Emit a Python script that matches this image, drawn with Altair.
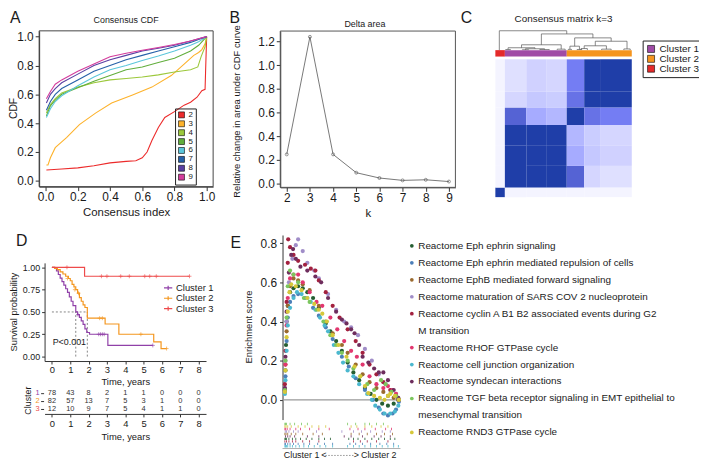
import altair as alt
import pandas as pd

FONT = "Liberation Sans"
INK = "#1a1a1a"
W, H = 699, 453


def X(px):
    return px - 8


def Y(py):
    return py - 8


# ---------------- Panel A: consensus CDF ----------------
cdf_k = ["2", "3", "4", "5", "6", "7", "8", "9"]
cdf_colors = ["#EC2B2B", "#FDB22B", "#9CC83B", "#62AE3C", "#5CC6DB", "#2660A8", "#5A3FA2", "#D43C9C"]
cdf_k2_x = [0.005, 0.1, 0.2, 0.3, 0.4, 0.5, 0.56, 0.6, 0.63, 0.66, 0.7, 0.74, 0.8, 0.86, 0.9, 0.94, 0.97, 0.99, 0.993, 0.997, 1.0]
cdf_k2_y = [0.075, 0.082, 0.09, 0.105, 0.125, 0.135, 0.14, 0.16, 0.2, 0.28, 0.37, 0.44, 0.48, 0.525, 0.545, 0.58, 0.625, 0.635, 0.75, 0.9, 1.0]
cdf_k3_x = [0.005, 0.015, 0.03, 0.06, 0.1, 0.13, 0.21, 0.31, 0.41, 0.54, 0.66, 0.78, 0.86, 0.92, 0.95, 0.97, 0.99, 1.0]
cdf_k3_y = [0.11, 0.11, 0.16, 0.23, 0.27, 0.30, 0.39, 0.47, 0.54, 0.596, 0.65, 0.73, 0.81, 0.87, 0.89, 0.91, 0.95, 1.0]
cdf_k4_x = [0.005, 0.03, 0.06, 0.1, 0.2, 0.3, 0.4, 0.5, 0.6, 0.7, 0.8, 0.9, 0.945, 0.965, 0.99, 1.0]
cdf_k4_y = [0.47, 0.53, 0.57, 0.61, 0.65, 0.68, 0.70, 0.71, 0.72, 0.735, 0.755, 0.77, 0.79, 0.86, 0.93, 1.0]
cdf_grid_x = [0.005, 0.03, 0.06, 0.1, 0.2, 0.3, 0.4, 0.5, 0.6, 0.7, 0.8, 0.9, 0.95, 1.0]
cdf_k5_y = [0.45, 0.52, 0.56, 0.60, 0.645, 0.69, 0.73, 0.77, 0.79, 0.82, 0.85, 0.90, 0.94, 1.0]
cdf_k6_y = [0.44, 0.50, 0.55, 0.59, 0.66, 0.72, 0.77, 0.80, 0.835, 0.865, 0.90, 0.94, 0.965, 1.0]
cdf_k7_y = [0.49, 0.55, 0.60, 0.64, 0.70, 0.76, 0.80, 0.84, 0.87, 0.90, 0.93, 0.96, 0.98, 1.0]
cdf_k8_y = [0.54, 0.60, 0.64, 0.68, 0.74, 0.80, 0.84, 0.87, 0.90, 0.92, 0.94, 0.97, 0.985, 1.0]
cdf_k9_y = [0.57, 0.62, 0.67, 0.70, 0.76, 0.81, 0.86, 0.885, 0.905, 0.925, 0.945, 0.97, 0.985, 1.0]

# ---------------- Panel B: delta area ----------------
delta_k = [2, 3, 4, 5, 6, 7, 8, 9]
delta_area = [0.245, 1.24, 0.245, 0.09, 0.045, 0.025, 0.03, 0.015]

# ---------------- Panel C: consensus matrix ----------------
clusters = ["Cluster 1", "Cluster 2", "Cluster 3"]
cluster_colors_c = ["#A04BA6", "#F5951E", "#E42A2A"]
bar_cluster = ["Cluster 3", "Cluster 1", "Cluster 2"]
bar_size = [12, 78, 82]
block_size = [12, 27, 25, 26, 22, 20, 40]
block_matrix = [
    [0.95, 0.0, 0.0, 0.0, 0.0, 0.0, 0.0],
    [0.0, 0.93, 0.88, 0.86, 0.62, 0.12, 0.08],
    [0.0, 0.88, 0.92, 0.90, 0.30, 0.18, 0.14],
    [0.0, 0.86, 0.90, 0.93, 0.25, 0.16, 0.12],
    [0.0, 0.62, 0.30, 0.25, 0.95, 0.55, 0.50],
    [0.0, 0.12, 0.18, 0.16, 0.55, 0.92, 0.86],
    [0.0, 0.08, 0.14, 0.12, 0.50, 0.86, 0.95],
]
# dendrogram merges: left x, right x, height, left child height, right child height
dendro_xl = [5, 58, 33, 16, 13, 38, 34, 56, 78, 100, 94, 92, 103, 126, 112, 108, 134, 162]
dendro_xr = [90, 123, 83, 50, 19, 62, 42, 68, 88, 146, 106, 96, 109, 166, 140, 116, 146, 170]
dendro_h = [0.98, 0.82, 0.27, 0.12, 0.03, 0.07, 0.02, 0.03, 0.05, 0.62, 0.2, 0.04, 0.03, 0.45, 0.22, 0.08, 0.05, 0.06]
dendro_hl = [0.0, 0.27, 0.12, 0.03, 0.0, 0.02, 0.0, 0.0, 0.0, 0.2, 0.04, 0.0, 0.0, 0.22, 0.08, 0.0, 0.0, 0.0]
dendro_hr = [0.82, 0.62, 0.05, 0.07, 0.0, 0.03, 0.0, 0.0, 0.0, 0.45, 0.03, 0.0, 0.0, 0.06, 0.05, 0.0, 0.0, 0.0]

# ---------------- Panel D: survival ----------------
km_colors = ["#9040A8", "#F4961E", "#EE4B4B"]
c1_t = [0, 0.15, 0.25, 0.35, 0.45, 0.55, 0.65, 0.75, 0.85, 0.95, 1.05, 1.15, 1.3, 1.4, 1.5, 1.6, 1.7, 1.8, 1.9, 2.05, 3.05, 5.5]
c1_s = [1.0, 0.987, 0.96, 0.92, 0.88, 0.84, 0.80, 0.76, 0.72, 0.67, 0.62, 0.57, 0.50, 0.47, 0.44, 0.40, 0.36, 0.31, 0.27, 0.25, 0.125, 0.125]
c2_t = [0, 0.15, 0.3, 0.45, 0.6, 0.75, 0.9, 1.0, 1.1, 1.2, 1.3, 1.4, 1.5, 1.6, 1.7, 1.8, 1.93, 2.9, 3.65, 5.55, 5.95, 6.25]
c2_s = [1.0, 0.988, 0.975, 0.95, 0.925, 0.9, 0.875, 0.85, 0.81, 0.78, 0.75, 0.71, 0.66, 0.62, 0.58, 0.55, 0.43, 0.365, 0.25, 0.165, 0.09, 0.09]
c3_t = [0, 1.78, 7.5]
c3_s = [1.0, 0.9, 0.9]
c1_cens_t = [1.42, 2.55, 2.65, 2.75, 2.85, 5.5]
c1_cens_s = [0.47, 0.25, 0.25, 0.25, 0.25, 0.125]
c2_cens_t = [0.85, 1.25, 1.45, 2.6, 2.75, 4.85, 6.25]
c2_cens_s = [0.875, 0.75, 0.71, 0.43, 0.43, 0.25, 0.09]
c3_cens_t = [0.82, 2.7, 3.0, 3.75, 4.22, 5.06, 5.33, 5.69, 7.5]
c3_cens_s = [1.0, 0.9, 0.9, 0.9, 0.9, 0.9, 0.9, 0.9, 0.9]
median_t = [1.3, 1.93]
risk_times = [0, 1, 2, 3, 4, 5, 6, 7, 8]
risk_c1 = [78, 43, 8, 2, 1, 1, 0, 0, 0]
risk_c2 = [82, 57, 13, 7, 5, 3, 1, 0, 0]
risk_c3 = [12, 10, 9, 7, 5, 4, 1, 1, 0]

# ---------------- Panel E: enrichment ----------------
pathway_lines = [
    ["Reactome Eph ephrin signaling"],
    ["Reactome Eph ephrin mediated repulsion of cells"],
    ["Reactome EphB mediated forward signaling"],
    ["Reactome maturation of SARS COV 2 nucleoprotein"],
    ["Reactome cyclin A B1 B2 associated events during G2", "M transition"],
    ["Reactome RHOF GTPase cycle"],
    ["Reactome cell junction organization"],
    ["Reactome syndecan interactions"],
    ["Reactome TGF beta receptor signaling in EMT epithelial to", "mesenchymal transition"],
    ["Reactome RND3 GTPase cycle"],
]
pathway_colors = ["#255E32", "#4C7FB8", "#9A6A2F", "#A08DC8", "#A3213F", "#E2376F", "#4BB8CF", "#6E2D5D", "#7CC65E", "#D6C83A"]
eph_x = [0.005, 0.01, 0.015, 0.02, 0.03, 0.05, 0.08, 0.12, 0.16, 0.2, 0.25, 0.3, 0.36, 0.4, 0.45, 0.5, 0.55, 0.6, 0.65, 0.7, 0.75, 0.8, 0.85, 0.9, 0.95, 0.99]
eph_y = [0.05, 0.15, 0.28, 0.40, 0.48, 0.55, 0.57, 0.58, 0.57, 0.55, 0.52, 0.47, 0.39, 0.35, 0.30, 0.25, 0.19, 0.14, 0.10, 0.06, 0.03, 0.00, -0.02, -0.03, -0.02, 0.00]
rep_x = [0.005, 0.01, 0.02, 0.03, 0.05, 0.08, 0.12, 0.18, 0.25, 0.3, 0.36, 0.42, 0.5, 0.56, 0.62, 0.7, 0.77, 0.82, 0.86, 0.9, 0.94, 0.97, 0.995]
rep_y = [0.04, 0.12, 0.30, 0.42, 0.50, 0.53, 0.54, 0.52, 0.47, 0.43, 0.37, 0.31, 0.22, 0.17, 0.11, 0.05, 0.00, -0.04, -0.07, -0.08, -0.07, -0.05, -0.01]
ephb_x = [0.005, 0.01, 0.02, 0.03, 0.05, 0.08, 0.12, 0.16, 0.22, 0.3, 0.36, 0.42, 0.5, 0.55, 0.62, 0.68, 0.74, 0.8, 0.86, 0.9, 0.95, 0.99]
ephb_y = [0.05, 0.18, 0.35, 0.48, 0.58, 0.62, 0.61, 0.59, 0.56, 0.48, 0.40, 0.34, 0.28, 0.24, 0.18, 0.13, 0.09, 0.06, 0.04, 0.02, 0.01, 0.00]
sars_x = [0.005, 0.01, 0.02, 0.04, 0.07, 0.1, 0.12, 0.16, 0.2, 0.26, 0.3, 0.38, 0.45, 0.52, 0.58, 0.64, 0.7, 0.76, 0.82, 0.88, 0.93, 0.97, 0.995]
sars_y = [0.06, 0.20, 0.40, 0.60, 0.72, 0.79, 0.82, 0.76, 0.70, 0.66, 0.62, 0.54, 0.46, 0.40, 0.37, 0.33, 0.26, 0.20, 0.13, 0.08, 0.05, 0.03, 0.00]
cyc_x = [0.005, 0.01, 0.02, 0.03, 0.034, 0.05, 0.08, 0.12, 0.18, 0.23, 0.27, 0.3, 0.36, 0.42, 0.48, 0.55, 0.62, 0.68, 0.74, 0.8, 0.86, 0.92, 0.97, 0.995]
cyc_y = [0.08, 0.25, 0.50, 0.70, 0.82, 0.78, 0.74, 0.71, 0.69, 0.67, 0.66, 0.61, 0.55, 0.48, 0.42, 0.36, 0.30, 0.24, 0.18, 0.13, 0.09, 0.05, 0.02, 0.00]
rhof_x = [0.005, 0.01, 0.02, 0.03, 0.05, 0.08, 0.12, 0.16, 0.22, 0.28, 0.33, 0.4, 0.46, 0.52, 0.58, 0.63, 0.68, 0.74, 0.8, 0.86, 0.9, 0.94, 0.97, 0.995]
rhof_y = [0.05, 0.18, 0.38, 0.52, 0.62, 0.64, 0.64, 0.60, 0.55, 0.50, 0.48, 0.42, 0.36, 0.30, 0.25, 0.22, 0.18, 0.12, 0.08, 0.06, 0.07, 0.05, 0.03, 0.00]
junc_x = [0.005, 0.01, 0.02, 0.03, 0.05, 0.08, 0.11, 0.15, 0.2, 0.23, 0.27, 0.31, 0.35, 0.38, 0.43, 0.47, 0.51, 0.55, 0.6, 0.65, 0.72, 0.76, 0.79, 0.83, 0.87, 0.92, 0.96, 0.99]
junc_y = [0.03, 0.10, 0.25, 0.38, 0.47, 0.52, 0.55, 0.54, 0.52, 0.50, 0.46, 0.42, 0.38, 0.35, 0.28, 0.24, 0.19, 0.15, 0.12, 0.08, 0.03, 0.00, -0.03, -0.05, -0.07, -0.07, -0.06, -0.03]
synd_x = [0.005, 0.01, 0.02, 0.04, 0.06, 0.076, 0.1, 0.14, 0.2, 0.27, 0.32, 0.38, 0.45, 0.5, 0.54, 0.58, 0.61, 0.65, 0.68, 0.73, 0.78, 0.82, 0.86, 0.9, 0.95, 0.99]
synd_y = [0.06, 0.22, 0.45, 0.65, 0.74, 0.77, 0.72, 0.68, 0.66, 0.63, 0.60, 0.52, 0.45, 0.41, 0.39, 0.36, 0.34, 0.28, 0.22, 0.19, 0.16, 0.14, 0.14, 0.10, 0.05, 0.01]
tgf_x = [0.005, 0.01, 0.02, 0.03, 0.05, 0.08, 0.12, 0.17, 0.22, 0.28, 0.34, 0.4, 0.45, 0.5, 0.55, 0.6, 0.66, 0.72, 0.78, 0.84, 0.88, 0.93, 0.97, 0.995]
tgf_y = [0.05, 0.20, 0.42, 0.58, 0.66, 0.64, 0.60, 0.52, 0.50, 0.46, 0.40, 0.33, 0.28, 0.24, 0.20, 0.16, 0.12, 0.08, 0.05, 0.10, 0.08, 0.04, 0.02, 0.00]
rnd3_x = [0.005, 0.01, 0.02, 0.03, 0.045, 0.06, 0.1, 0.15, 0.2, 0.26, 0.3, 0.33, 0.37, 0.42, 0.47, 0.54, 0.61, 0.66, 0.7, 0.73, 0.78, 0.83, 0.87, 0.9, 0.92, 0.96, 0.995]
rnd3_y = [0.04, 0.15, 0.32, 0.45, 0.55, 0.59, 0.58, 0.56, 0.52, 0.49, 0.46, 0.44, 0.40, 0.33, 0.28, 0.22, 0.17, 0.12, 0.07, 0.034, 0.02, 0.01, 0.00, 0.02, 0.03, 0.02, 0.00]
rug_eph = [0.005, 0.01, 0.02, 0.04, 0.07, 0.1, 0.14, 0.19, 0.24, 0.3, 0.35, 0.4, 0.56, 0.6, 0.64, 0.7, 0.76, 0.82, 0.87, 0.92, 0.96]
rug_rep = [0.005, 0.01, 0.03, 0.05, 0.08, 0.12, 0.17, 0.22, 0.29, 0.35, 0.42, 0.57, 0.62, 0.68, 0.75, 0.83, 0.89, 0.95]
rug_ephb = [0.005, 0.015, 0.03, 0.06, 0.1, 0.16, 0.25, 0.33, 0.58, 0.65, 0.72, 0.8, 0.87, 0.94]
rug_sars = [0.008, 0.02, 0.04, 0.08, 0.12, 0.28, 0.5, 0.6, 0.67, 0.75, 0.85, 0.92]
rug_cyc = [0.005, 0.02, 0.04, 0.07, 0.1, 0.16, 0.22, 0.3, 0.6, 0.66, 0.72, 0.8, 0.9]
rug_rhof = [0.005, 0.012, 0.025, 0.05, 0.1, 0.14, 0.22, 0.3, 0.39, 0.57, 0.64, 0.7, 0.79, 0.88, 0.93]
rug_junc = [0.005, 0.01, 0.02, 0.03, 0.05, 0.07, 0.1, 0.13, 0.17, 0.21, 0.26, 0.31, 0.36, 0.42, 0.55, 0.6, 0.65, 0.7, 0.75, 0.8, 0.85, 0.9, 0.95, 0.99]
rug_synd = [0.01, 0.03, 0.05, 0.09, 0.2, 0.3, 0.52, 0.58, 0.68, 0.78, 0.84, 0.92]
rug_tgf = [0.005, 0.01, 0.02, 0.05, 0.09, 0.15, 0.2, 0.55, 0.62, 0.7, 0.74, 0.8, 0.86]
rug_rnd3 = [0.005, 0.015, 0.03, 0.06, 0.12, 0.18, 0.24, 0.3, 0.36, 0.58, 0.63, 0.7, 0.76, 0.84, 0.9]
rug_row_order = [8, 9, 5, 3, 2, 7, 0, 4, 1, 6]

# ================= build tables =================
pathways = [" ".join(p) for p in pathway_lines]
es_x = [eph_x, rep_x, ephb_x, sars_x, cyc_x, rhof_x, junc_x, synd_x, tgf_x, rnd3_x]
es_y = [eph_y, rep_y, ephb_y, sars_y, cyc_y, rhof_y, junc_y, synd_y, tgf_y, rnd3_y]
rugs = [rug_eph, rug_rep, rug_ephb, rug_sars, rug_cyc, rug_rhof, rug_junc, rug_synd, rug_tgf, rug_rnd3]

cdf_xs = [cdf_k2_x, cdf_k3_x, cdf_k4_x] + [cdf_grid_x] * 5
cdf_ys = [cdf_k2_y, cdf_k3_y, cdf_k4_y, cdf_k5_y, cdf_k6_y, cdf_k7_y, cdf_k8_y, cdf_k9_y]
cdf_df = pd.DataFrame([{"k": k, "x": x, "y": y}
                       for k, xs, ys in zip(cdf_k, cdf_xs, cdf_ys) for x, y in zip(xs, ys)])
delta_df = pd.DataFrame({"k": delta_k, "d": delta_area})

starts = [sum(block_size[:i]) for i in range(len(block_size))]
heat_df = pd.DataFrame([{"c0": starts[j], "c1": starts[j] + block_size[j],
                         "r0": starts[i], "r1": starts[i] + block_size[i], "v": block_matrix[i][j]}
                        for i in range(len(block_size)) for j in range(len(block_size))])
segs = []
for xl, xr, h, hl, hr in zip(dendro_xl, dendro_xr, dendro_h, dendro_hl, dendro_hr):
    segs += [(xl, h, xr, h), (xl, h, xl, hl), (xr, h, xr, hr)]
dendro_df = pd.DataFrame(segs, columns=["x", "y", "x2", "y2"])
bstarts = [sum(bar_size[:i]) for i in range(len(bar_size))]
bar_df = pd.DataFrame({"cluster": bar_cluster, "s": bstarts,
                       "e": [b + n for b, n in zip(bstarts, bar_size)]})

km_df = pd.concat([pd.DataFrame({"cluster": c, "t": t, "s": s}) for c, t, s in
                   zip(clusters, [c1_t, c2_t, c3_t], [c1_s, c2_s, c3_s])])
cens_df = pd.concat([pd.DataFrame({"cluster": c, "t": t, "s": s}) for c, t, s in
                     zip(clusters, [c1_cens_t, c2_cens_t, c3_cens_t], [c1_cens_s, c2_cens_s, c3_cens_s])])
med_df = pd.DataFrame({"x": [0, median_t[0], median_t[1]], "x2": [median_t[1], median_t[0], median_t[1]],
                       "y": [0.5, 0.0, 0.0], "y2": [0.5, 0.5, 0.5]})
risk_df = pd.concat([pd.DataFrame({"row": str(i + 1), "t": risk_times, "n": r})
                     for i, r in enumerate([risk_c1, risk_c2, risk_c3])])
row_df = pd.DataFrame({"row": ["1", "2", "3"], "cluster": clusters})

es_df = pd.concat([pd.DataFrame({"p": p, "x": xs, "y": ys}) for p, xs, ys in zip(pathways, es_x, es_y)])
rug_df = pd.concat([pd.DataFrame({"p": p, "x": r}) for p, r in zip(pathways, rugs)])
leg_rows = []
for p, lines in zip(pathways, pathway_lines):
    for j, ln in enumerate(lines):
        leg_rows.append({"i": len(leg_rows), "line": ln, "p": p if j == 0 else None})
leg_df = pd.DataFrame(leg_rows)
leg_dot_df = leg_df[leg_df["p"].notna()]


# ================= helpers =================
def one():
    return pd.DataFrame({"o": [0]})


def label(text, px, py, size, align="left", baseline="middle", angle=0, color=INK):
    return alt.Chart(pd.DataFrame({"t": [text]})).mark_text(
        align=align, baseline=baseline, fontSize=size, font=FONT, color=color, angle=angle
    ).encode(x=alt.value(X(px)), y=alt.value(Y(py)), text="t:N")


def frame(x0, y0, x1, y1, color="#444"):
    return alt.Chart(one()).mark_rect(fill="transparent", stroke=color, strokeWidth=1).encode(
        x=alt.value(X(x0)), x2=alt.value(X(x1)), y=alt.value(Y(y0)), y2=alt.value(Y(y1)))


def bottom_axis(py, **kw):
    base = dict(orient="bottom", offset=Y(py) - H, grid=False, domainColor="#333", tickColor="#333",
                labelColor=INK, titleColor=INK, labelFont=FONT, titleFont=FONT, titleFontWeight="normal")
    base.update(kw)
    return alt.Axis(**base)


def left_axis(px, **kw):
    base = dict(orient="left", offset=-X(px), grid=False, domainColor="#333", tickColor="#333",
                labelColor=INK, titleColor=INK, labelFont=FONT, titleFont=FONT, titleFontWeight="normal")
    base.update(kw)
    return alt.Axis(**base)


layers = []

# ---------- A ----------
xA = alt.Scale(domain=[-0.04, 1.04], range=[X(39.5), X(215.5)], nice=False, zero=False)
yA = alt.Scale(domain=[-0.04, 1.04], range=[Y(186.1), Y(28.5)], nice=False, zero=False)
colA = alt.Scale(domain=cdf_k, range=cdf_colors)
layers.append(frame(39.5, 28.5, 215.5, 186.1))
layers.append(alt.Chart(cdf_df).mark_line(strokeWidth=1.1).encode(
    x=alt.X("x:Q", scale=xA, axis=bottom_axis(186.1, values=[0, 0.2, 0.4, 0.6, 0.8, 1.0], format=".1f",
                                              tickSize=4, labelFontSize=12, labelPadding=1,
                                              title="Consensus index", titleFontSize=11.5, titlePadding=4)),
    y=alt.Y("y:Q", scale=yA, axis=left_axis(39.5, values=[0, 0.2, 0.4, 0.6, 0.8, 1.0], format=".1f",
                                             tickSize=4, labelFontSize=12, labelPadding=2, title=None)),
    color=alt.Color("k:N", scale=colA, legend=None)))
layers.append(alt.Chart(pd.DataFrame({"k": cdf_k})).mark_square(opacity=0, size=1).encode(
    color=alt.Color("k:N", scale=colA, legend=alt.Legend(
        orient="none", legendX=X(177), legendY=Y(107), title=None, symbolType="square", symbolSize=36,
        symbolStrokeColor="#000", symbolStrokeWidth=0.6, symbolOpacity=1, labelFontSize=8,
        labelOffset=3, rowPadding=-1.2, padding=2.5, strokeColor="#222", labelFont=FONT, labelColor=INK))))
layers.append(label("Consensus CDF", 127.5, 18, 9, align="center"))
layers.append(label("CDF", 14.5, 107, 10.5, align="center", angle=270))

# ---------- B ----------
xB = alt.Scale(domain=[1.72, 9.28], range=[X(283.4), X(460.6)], nice=False, zero=False)
yB = alt.Scale(domain=[-0.034, 1.289], range=[Y(186.8), Y(28.7)], nice=False, zero=False)
layers.append(frame(283.4, 28.7, 460.6, 186.8, color="#555"))
layers.append(alt.Chart(delta_df).mark_line(color="#555", strokeWidth=0.8).encode(
    x=alt.X("k:Q", scale=xB, axis=bottom_axis(186.8, values=delta_k, format="d", tickSize=4,
                                              labelFontSize=12, labelPadding=1, title="k",
                                              titleFontSize=11.5, titlePadding=4)),
    y=alt.Y("d:Q", scale=yB, axis=left_axis(283.4, values=[0, 0.2, 0.4, 0.6, 0.8, 1.0, 1.2], format=".1f",
                                             tickSize=4, labelFontSize=12, labelPadding=2, title=None))))
layers.append(alt.Chart(delta_df).mark_point(shape="circle", filled=False, color="#444", size=9,
                                             strokeWidth=0.8).encode(
    x=alt.X("k:Q", scale=xB, axis=None), y=alt.Y("d:Q", scale=yB, axis=None)))
layers.append(label("Delta area", 369, 22, 9, align="center"))
layers.append(label("Relative change in area under CDF curve", 240, 110, 9.5, align="center", angle=270))

# ---------- C ----------
xC = alt.Scale(domain=[0, 172], range=[X(501), X(639)], nice=False, zero=False)
yC = alt.Scale(domain=[0, 172], range=[Y(196.7), Y(57.3)], nice=False, zero=False)
yDen = alt.Scale(domain=[0, 1], range=[Y(48), Y(28)], nice=False, zero=False)
colC = alt.Scale(domain=clusters, range=cluster_colors_c)
layers.append(alt.Chart(heat_df).mark_rect(strokeWidth=0).encode(
    x=alt.X("c0:Q", scale=xC, axis=None), x2="c1:Q",
    y=alt.Y("r0:Q", scale=yC, axis=None), y2="r1:Q",
    color=alt.Color("v:Q", scale=alt.Scale(domain=[0, 0.8], range=["#FFFFFF", "#1F3EA8"], clamp=True),
                    legend=None)))
layers.append(alt.Chart(dendro_df).mark_rule(color="#555", strokeWidth=0.7).encode(
    x=alt.X("x:Q", scale=xC, axis=None), x2="x2:Q",
    y=alt.Y("y:Q", scale=yDen, axis=None), y2="y2:Q"))
layers.append(alt.Chart(bar_df).mark_rect().encode(
    x=alt.X("s:Q", scale=xC, axis=None), x2="e:Q",
    y=alt.value(Y(48)), y2=alt.value(Y(54.5)),
    color=alt.Color("cluster:N", scale=colC, legend=alt.Legend(
        orient="none", legendX=X(650), legendY=Y(38.3), title=None, symbolType="square", symbolSize=50,
        symbolStrokeColor="#000", symbolStrokeWidth=0.6, labelFontSize=10, labelOffset=3.5, rowPadding=-1,
        padding=3.5, strokeColor="#222", labelFont=FONT, labelColor=INK))))
layers.append(label("Consensus matrix k=3", 570, 16.5, 10, align="center"))

# ---------- D ----------
xD = alt.Scale(domain=[-0.4, 8.4], range=[X(45), X(208.3)], nice=False, zero=False)
yD = alt.Scale(domain=[-0.05, 1.05], range=[Y(362.5), Y(263.2)], nice=False, zero=False)
colD = alt.Scale(domain=clusters, range=km_colors)
layers.append(alt.Chart(med_df).mark_rule(color="#666", strokeWidth=0.8, strokeDash=[2, 2]).encode(
    x=alt.X("x:Q", scale=xD, axis=None), x2="x2:Q",
    y=alt.Y("y:Q", scale=yD, axis=None), y2="y2:Q"))
layers.append(alt.Chart(km_df).mark_line(interpolate="step-after", strokeWidth=1.2).encode(
    x=alt.X("t:Q", scale=xD, axis=bottom_axis(362.5, values=risk_times, format="d", tickSize=3,
                                              labelFontSize=9.5, labelPadding=1, title="Time, years",
                                              titleFontSize=9.5, titlePadding=2)),
    y=alt.Y("s:Q", scale=yD, axis=left_axis(45, values=[0, 0.25, 0.5, 0.75, 1.0], format=".2f", tickSize=3,
                                             labelFontSize=9, labelPadding=2, title=None)),
    color=alt.Color("cluster:N", scale=colD, legend=alt.Legend(
        orient="none", legendX=X(165), legendY=Y(283.5), title=None, symbolType="M-1,0L1,0M0,-0.5L0,0.5",
        symbolSize=70, symbolStrokeWidth=1.2, labelFontSize=9.5, labelOffset=3, rowPadding=0.5,
        padding=0, labelFont=FONT, labelColor=INK))))
layers.append(alt.Chart(cens_df).mark_point(shape="M-1,0L1,0M0,-1L0,1", filled=False, size=16,
                                            strokeWidth=0.9).encode(
    x=alt.X("t:Q", scale=xD, axis=None), y=alt.Y("s:Q", scale=yD, axis=None),
    color=alt.Color("cluster:N", scale=colD, legend=None)))
layers.append(alt.Chart(pd.DataFrame({"t": [0.95], "s": [0.16], "txt": ["P<0.001"]})).mark_text(
    fontSize=9, font=FONT, color=INK).encode(
    x=alt.X("t:Q", scale=xD, axis=None), y=alt.Y("s:Q", scale=yD, axis=None), text="txt:N"))
layers.append(label("Survival probability", 14.5, 313, 9.5, align="center", angle=270))
yRisk = alt.Scale(type="point", domain=["1", "2", "3"], range=[Y(394.5), Y(411)], padding=0)
layers.append(alt.Chart(risk_df).mark_text(fontSize=7.5, font=FONT, color="#333").encode(
    x=alt.X("t:Q", scale=xD, axis=bottom_axis(416, values=risk_times, format="d", tickSize=3,
                                              labelFontSize=9.5, labelPadding=2, title="Time, years",
                                              titleFontSize=9.5, titlePadding=3)),
    y=alt.Y("row:N", scale=yRisk, axis=left_axis(44, labels=False, domain=False, tickSize=3, title=None)),
    text="n:Q"))
layers.append(alt.Chart(row_df).mark_text(fontSize=7.5, font=FONT, align="right").encode(
    x=alt.value(X(40)), y=alt.Y("row:N", scale=yRisk, axis=None), text="row:N",
    color=alt.Color("cluster:N", scale=colD, legend=None)))
layers.append(label("Cluster", 28.5, 402.5, 9, align="center", angle=270))

# ---------- E ----------
xE = alt.Scale(domain=[0, 1], range=[X(287.5), X(404)], nice=False, zero=False)
yE = alt.Scale(domain=[-0.101, 0.842], range=[Y(421.7), Y(235)], nice=False, zero=False)
colE = alt.Scale(domain=pathways, range=pathway_colors)
layers.append(alt.Chart(pd.DataFrame({"y": [0.0]})).mark_rule(color="#999", strokeWidth=1.2).encode(
    y=alt.Y("y:Q", scale=yE, axis=None), x=alt.value(X(285.7)), x2=alt.value(X(405))))
layers.append(alt.Chart(es_df).mark_circle(size=18, opacity=1).encode(
    x=alt.X("x:Q", scale=xE, axis=None),
    y=alt.Y("y:Q", scale=yE, axis=left_axis(285.7, values=[0, 0.2, 0.4, 0.6, 0.8], format=".1f", tickSize=3,
                                             labelFontSize=12, labelPadding=3, title=None)),
    color=alt.Color("p:N", scale=colE, legend=None)))
layers.append(label("Enrichment score", 252, 328, 9.5, align="center", angle=270))
yRug = alt.Scale(type="band", domain=[pathways[i] for i in rug_row_order], range=[Y(425), Y(450)],
                 paddingInner=0, paddingOuter=0)
layers.append(alt.Chart(rug_df).mark_tick(thickness=0.8, size=2.4, opacity=1).encode(
    x=alt.X("x:Q", scale=xE, axis=None), y=alt.Y("p:N", scale=yRug, axis=None),
    color=alt.Color("p:N", scale=colE, legend=None)))
layers.append(alt.Chart(one()).mark_rule(color="#999", strokeWidth=0.8).encode(
    x=alt.value(X(285.7)), x2=alt.value(X(405)), y=alt.value(Y(451))))
layers.append(label("Cluster 1", 287, 458, 9))
layers.append(label("Cluster 2", 401, 458, 9, align="right"))
layers.append(label("<", 325, 458, 9))
layers.append(label(">", 363, 458, 9, align="right"))
layers.append(alt.Chart(one()).mark_rule(color="#777", strokeWidth=0.8, strokeDash=[1.5, 1.5]).encode(
    x=alt.value(X(329)), x2=alt.value(X(359)), y=alt.value(Y(458))))
yLeg = alt.Scale(domain=[0, 11], range=[Y(246), Y(434.7)], nice=False, zero=False)
layers.append(alt.Chart(leg_dot_df).mark_circle(size=14, opacity=1).encode(
    x=alt.value(X(416.5)), y=alt.Y("i:Q", scale=yLeg, axis=None),
    color=alt.Color("p:N", scale=colE, legend=None)))
layers.append(alt.Chart(leg_df).mark_text(align="left", baseline="middle", fontSize=10, font=FONT,
                                          color=INK).encode(
    x=alt.value(X(423)), y=alt.Y("i:Q", scale=yLeg, axis=None), text="line:N"))

# ---------- panel letters ----------
for letter, px, py in [("A", 10, 20.5), ("B", 232, 20.5), ("C", 466, 21), ("D", 16, 246), ("E", 233, 248)]:
    layers.append(label(letter, px, py, 16, baseline="alphabetic"))

chart = alt.layer(*layers).resolve_scale(
    x="independent", y="independent", color="independent"
).properties(
    width=W, height=H, padding=0, autosize=alt.AutoSizeParams(type="none"), background="white"
).configure_view(stroke=None)

chart.save("out.html", embed_options={"renderer": "svg", "actions": False})
